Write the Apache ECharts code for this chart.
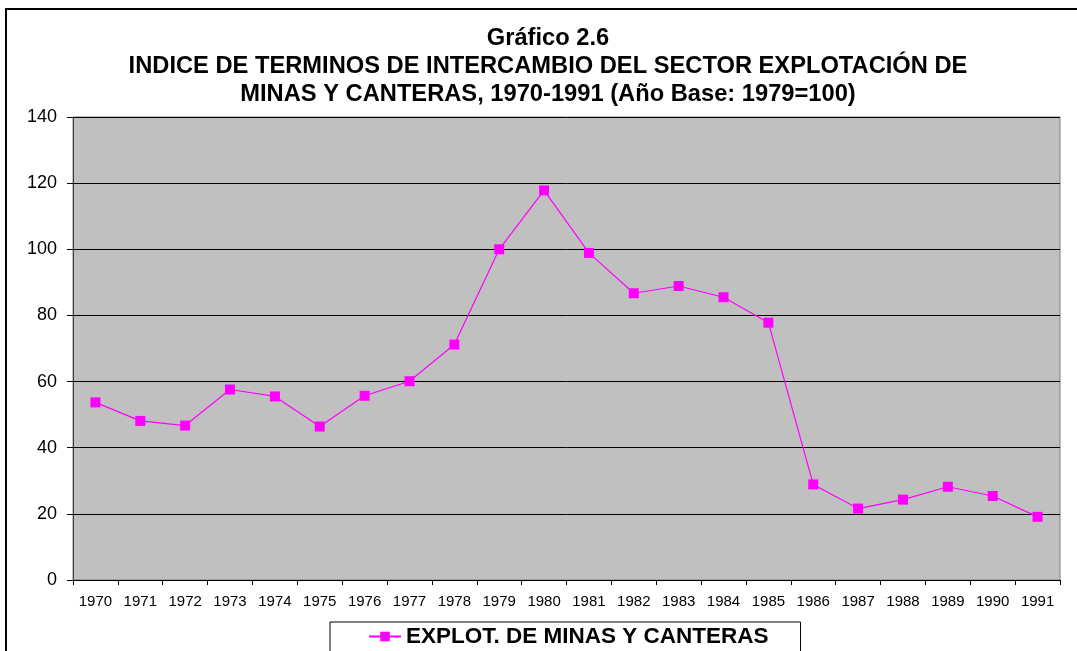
<!DOCTYPE html>
<html>
<head>
<meta charset="utf-8">
<script src="https://cdn.jsdelivr.net/npm/echarts@6/dist/echarts.min.js"></script>
<style>
  html, body { margin: 0; padding: 0; background: #fff; }
  #frame {
    position: absolute; left: 5px; top: 8px; width: 1100px; height: 700px;
    border: 2px solid #000; box-sizing: border-box; pointer-events: none; z-index: 2;
  }
  #chart { position: absolute; left: 0; top: 0; width: 1077px; height: 651px; }
</style>
</head>
<body>
<div id="chart"></div>
<div id="frame"></div>
<script>
// datos
const years = ['1970', '1971', '1972', '1973', '1974', '1975', '1976', '1977', '1978', '1979', '1980',
  '1981', '1982', '1983', '1984', '1985', '1986', '1987', '1988', '1989', '1990', '1991']
const explotMinas = [53.7, 48.1, 46.7, 57.6, 55.5, 46.4, 55.7, 60.1, 71.2, 100, 117.8,
  98.9, 86.7, 88.9, 85.5, 77.8, 28.9, 21.6, 24.3, 28.2, 25.4, 19.1]
const yTicks = [0, 20, 40, 60, 80, 100, 120, 140]

const seriesName = 'EXPLOT. DE MINAS Y CANTERAS'
const font = 'Arial, "Liberation Sans", sans-serif'

let chart = echarts.init(document.getElementById('chart'))

chart.setOption({
  animation: false,
  backgroundColor: '#fff',
  title: {
    text: 'Gráfico 2.6\nINDICE DE TERMINOS DE INTERCAMBIO DEL SECTOR EXPLOTACIÓN DE\nMINAS Y CANTERAS, 1970-1991 (Año Base: 1979=100)',
    left: 543,
    top: 19,
    textAlign: 'center',
    textStyle: {
      fontFamily: font,
      fontSize: 23.7,
      fontWeight: 'bold',
      color: '#000',
      lineHeight: 28.3
    }
  },
  legend: {
    left: 330,
    top: 622,
    padding: [3, 32, 5, 38],
    borderColor: '#000',
    borderWidth: 1,
    itemWidth: 32,
    itemHeight: 12,
    textStyle: {
      fontFamily: font,
      fontSize: 22.5,
      fontWeight: 'bold',
      color: '#000'
    },
    data: [seriesName]
  },
  grid: {
    left: 73,
    right: 17,
    top: 117,
    bottom: 71,
    show: true,
    backgroundColor: '#c0c0c0',
    borderColor: '#808080',
    borderWidth: 1
  },
  xAxis: {
    type: 'category',
    data: years,
    boundaryGap: true,
    axisLine: { lineStyle: { color: '#000', width: 1 } },
    axisTick: { show: true, length: 5, lineStyle: { color: '#000' } },
    axisLabel: {
      interval: 0,
      margin: 14,
      fontFamily: font,
      fontSize: 15,
      color: '#000'
    }
  },
  yAxis: {
    type: 'value',
    min: yTicks[0],
    max: yTicks[yTicks.length - 1],
    interval: 20,
    axisLine: { show: true, lineStyle: { color: '#404040', width: 1 } },
    axisTick: { show: true, length: 6, lineStyle: { color: '#000' } },
    splitLine: { show: true, lineStyle: { color: '#000', width: 1 } },
    axisLabel: {
      margin: 16,
      fontFamily: font,
      fontSize: 18,
      color: '#000'
    }
  },
  series: [{
    name: seriesName,
    type: 'line',
    data: explotMinas,
    symbol: 'rect',
    symbolSize: 10,
    lineStyle: { color: '#ff00ff', width: 1.2 },
    itemStyle: { color: '#ff00ff', borderWidth: 0 }
  }]
})
</script>
</body>
</html>
